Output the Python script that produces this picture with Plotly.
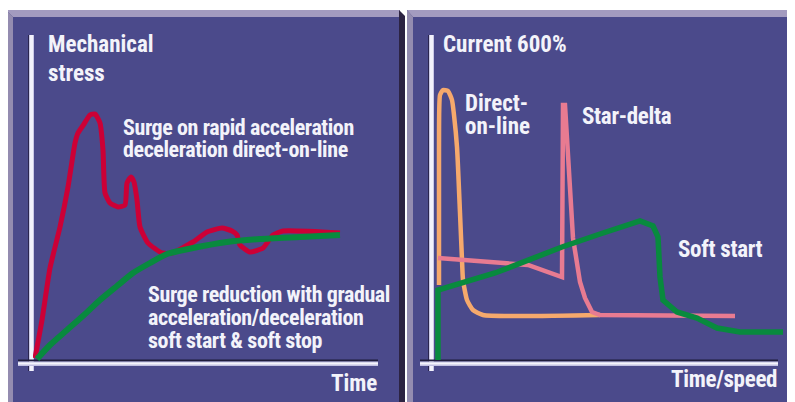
import plotly.graph_objects as go

# page body has an 8px margin: figure is sized so that it fills the 795x402 window
OFF = 8
W, H = 795 - OFF, 402 - OFF

# ---------------- data ----------------
# Left panel: mechanical stress vs time (arbitrary units, origin at axes corner)
dol_stress_t = [2, 9, 17, 27, 35, 42, 45, 51, 57, 62, 67, 70, 72, 77, 85, 92, 94, 98, 101,
                104, 107, 115, 129, 139, 160, 174, 189, 199, 204, 207, 217, 230, 240, 250, 307]
dol_stress_v = [4, 42, 94, 135, 175, 219, 229, 238, 247, 248, 239, 212, 169, 159, 155, 157, 179, 185, 180,
                162, 135, 119, 109, 109, 120, 130, 134, 131, 127, 117, 110, 114, 127, 131, 129]
soft_stress_t = [4, 17, 34, 51, 67, 84, 100, 117, 134, 160, 194, 227, 267, 307]
soft_stress_v = [3, 17, 32, 47, 62, 76, 89, 99, 108, 114, 120, 123, 125, 127]

# Right panel: current vs time/speed
dol_cur_t = [6, 6, 7, 10, 15, 19, 21, 24, 27, 29, 30, 34, 40, 50, 167]
dol_cur_v = [77, 212, 267, 272, 271, 262, 247, 215, 149, 102, 82, 62, 52, 47, 47]
sd_cur_t = [5, 62, 95, 129, 130, 132, 140, 147, 152, 159, 167, 302]
sd_cur_v = [104, 100, 97, 85, 257, 257, 124, 80, 64, 50, 47, 46]
ss_cur_t = [5, 5, 62, 129, 167, 207, 220, 225, 227, 230, 244, 264, 284, 307, 350]
ss_cur_v = [2, 72, 89, 115, 128, 141, 136, 125, 85, 62, 50, 44, 34, 30, 30]

# ---------------- helpers ----------------
def P(x):
    return (x - OFF) / W

def Q(y):
    return 1 - (y - OFF) / H

BLUE = "#4b4a8b"
BORDER_TOP = "#a39bbf"
BORDER_SIDE = "#948cb0"
DARK = "#2c2342"
TXT = "#f3f3fa"
FONT = "Roboto Condensed, DejaVu Sans Condensed, sans-serif"

fig = go.Figure()

fig.add_trace(go.Scatter(x=dol_stress_t, y=dol_stress_v, mode="lines",
                         line=dict(color="#cc0036", width=5, shape="spline", smoothing=0.5),
                         xaxis="x", yaxis="y", hoverinfo="skip"))
fig.add_trace(go.Scatter(x=soft_stress_t, y=soft_stress_v, mode="lines",
                         line=dict(color="#088a3e", width=6, shape="spline", smoothing=0.6),
                         xaxis="x", yaxis="y", hoverinfo="skip"))
fig.add_trace(go.Scatter(x=dol_cur_t, y=dol_cur_v, mode="lines",
                         line=dict(color="#f6a96c", width=4.5, shape="spline", smoothing=0.5),
                         xaxis="x2", yaxis="y2", hoverinfo="skip"))
fig.add_trace(go.Scatter(x=sd_cur_t, y=sd_cur_v, mode="lines",
                         line=dict(color="#e87b91", width=4.5),
                         xaxis="x2", yaxis="y2", hoverinfo="skip"))
fig.add_trace(go.Scatter(x=ss_cur_t, y=ss_cur_v, mode="lines",
                         line=dict(color="#088a3e", width=5.5),
                         xaxis="x2", yaxis="y2", hoverinfo="skip"))

ydom = [Q(362), Q(36)]
fig.update_layout(
    width=W, height=H, margin=dict(l=0, r=0, t=0, b=0),
    paper_bgcolor="white", plot_bgcolor="rgba(0,0,0,0)", showlegend=False,
    xaxis=dict(domain=[P(33), P(380)], range=[0, 347], visible=False, fixedrange=True),
    yaxis=dict(domain=ydom, range=[0, 326], visible=False, fixedrange=True),
    xaxis2=dict(domain=[P(433), P(790)], range=[0, 357], visible=False, fixedrange=True),
    yaxis2=dict(domain=ydom, range=[0, 326], visible=False, fixedrange=True, anchor="x2"),
)

shapes = []
def rect(x0, y0, x1, y1, color):
    shapes.append(dict(type="rect", xref="paper", yref="paper", x0=P(x0), x1=P(x1),
                       y0=Q(y1), y1=Q(y0), fillcolor=color, line=dict(width=0), layer="below"))

def poly(pts, color):
    d = "M " + " L ".join(f"{P(x)},{Q(y)}" for x, y in pts) + " Z"
    shapes.append(dict(type="path", xref="paper", yref="paper", path=d,
                       fillcolor=color, line=dict(width=0), layer="below"))

# left panel
rect(6, 10, 399, 402, BLUE)
poly([(6, 10), (400, 10), (400, 17), (13, 17)], BORDER_TOP)
poly([(6, 10), (13, 17), (13, 402), (6, 402)], BORDER_SIDE)
# separator
poly([(399, 10), (405, 16), (405, 402), (399, 402)], DARK)
rect(405, 10, 407, 402, "#ffffff")
# right panel
rect(407, 10, 795, 402, BLUE)
poly([(407, 10), (795, 10), (795, 17), (413, 17)], BORDER_TOP)
poly([(407, 10), (413, 17), (413, 402), (407, 402)], BORDER_SIDE)

def axis_lines(vx, hx0, hx1):
    rect(vx - 4, 35, vx - 3, 371, "#2a2550")
    rect(vx - 3, 35, vx + 2, 371, "#c9c8e6")
    rect(vx - 2, 35, vx + 1, 371, "#f2f2fb")
    rect(hx0, 359.5, hx1, 361.5, "#1f1c3c")
    rect(hx0, 361.5, hx1, 366, "#c2c1e2")
    rect(hx0, 362.5, hx1, 364.5, "#f4f4fc")

axis_lines(32, 18, 378)
axis_lines(432, 420, 778)

fig.update_layout(shapes=shapes)

def label(text, x, baseline, size=23, anchor="left", spacing=None):
    t = f"<b>{text}</b>"
    if spacing is not None:
        t = f"<span style='letter-spacing:{spacing}px'>{t}</span>"
    fig.add_annotation(text=t, xref="paper", yref="paper",
                       x=P(x), y=Q(baseline - 0.36 * size), xanchor=anchor, yanchor="middle",
                       showarrow=False, font=dict(family=FONT, size=size, color=TXT))

label("Mechanical", 46, 53)
label("stress", 46, 82)
label("Surge on rapid acceleration", 121, 135, size=22, spacing=-0.4)
label("deceleration direct-on-line", 121, 157, size=22, spacing=-0.4)
label("Surge reduction with gradual", 146, 302, size=22, spacing=-0.4)
label("acceleration/deceleration", 146, 325, size=22, spacing=-0.4)
label("soft start &amp; soft stop", 146, 348, size=22, spacing=-0.4)
label("Time", 379, 392, anchor="right")

label("Current 600%", 441, 53)
label("Direct-", 463, 112)
label("on-line", 463, 135)
label("Star-delta", 580, 125, spacing=-0.3)
label("Soft start", 676, 258, spacing=-0.3)
label("Time/speed", 779, 388, anchor="right", spacing=-0.3)

fig.write_html("out.html")
